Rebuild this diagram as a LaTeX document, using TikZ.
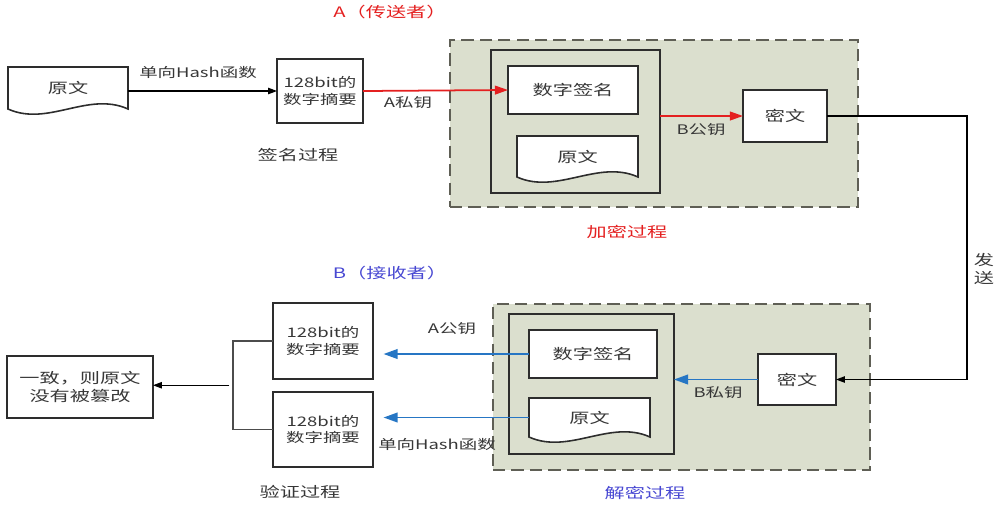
\documentclass[tikz,border=0pt]{standalone}
\usepackage{fontspec}
\setmainfont[FakeStretch=1.4]{Noto Sans CJK SC}
\usepackage{xcolor}
\usepackage{tikz}
\usetikzlibrary{arrows.meta,positioning,calc,backgrounds}
\definecolor{zonefill}{RGB}{219,223,206}
\definecolor{zoneline}{RGB}{95,95,85}
\definecolor{boxline}{RGB}{45,45,45}
\definecolor{signred}{RGB}{228,32,32}
\definecolor{keyblue}{RGB}{38,118,196}
\definecolor{titleblue}{RGB}{72,72,210}
\definecolor{textgray}{RGB}{55,55,55}
\newcommand{\bigtxt}{\fontsize{8.2}{10}\selectfont}
\newcommand{\smalltxt}{\fontsize{7.5}{9.2}\selectfont}

\begin{document}
\begin{tikzpicture}[
    x=0.02cm, y=-0.02cm,
    box/.style={rectangle, draw=boxline, line width=0.9pt, fill=white, align=center, inner sep=0pt, outer sep=0pt, font=\bigtxt, text=textgray},
    digest/.style={box, minimum width=2cm, font=\smalltxt},
    doc/.style={rectangle, align=center, inner sep=0pt, outer sep=0pt, font=\bigtxt, text=textgray},
    docline/.style={draw=boxline, line width=0.9pt, fill=white},
    zone/.style={rectangle, draw=zoneline, line width=1.5pt, dash pattern=on 7pt off 3.5pt, fill=zonefill, inner sep=0pt, outer sep=0pt},
    inner/.style={rectangle, draw=boxline, line width=1.1pt, inner sep=0pt, outer sep=0pt},
    lbl/.style={font=\smalltxt, inner sep=1pt, text=textgray},
    stagetxt/.style={font=\bigtxt, inner sep=1pt, text=textgray},
    arrow/.style={-{Triangle[length=5pt,width=3.6pt]}, line width=0.6pt, black},
    redarrow/.style={-{Triangle[length=7.5pt,width=5pt]}, line width=1pt, signred},
    bluearrow/.style={-{Triangle[length=8pt,width=5.5pt]}, line width=1pt, keyblue}
  ]
    \useasboundingbox (0,0) rectangle (997,515);

    \node[stagetxt, text=signred] (sender) at (390,12) {A（传送者）};
    \node[doc, minimum width=2.4cm, minimum height=0.84cm] (src) at (68,88) {原文};
    \node[digest, minimum height=1.28cm, minimum width=1.72cm] (hash1) at (320,91) {128bit的\\数字摘要};
    \node[stagetxt] (signstep) at (298,155) {签名过程};
    \node[box, minimum width=2.6cm, minimum height=0.96cm] (sig1) at (573,90) {数字签名};
    \node[doc, minimum width=2.42cm, minimum height=0.82cm] (plain1) at (577.5,156.5) {原文};
    \node[box, minimum width=1.68cm, minimum height=1.04cm] (cipher1) at (785,116) {密文};
    \node[stagetxt, text=signred] (encstep) at (627,232) {加密过程};

    \node[stagetxt, text=titleblue] (receiver) at (390,273) {B（接收者）};
    \node[box, minimum width=2.56cm, minimum height=0.96cm] (sig2) at (593,354) {数字签名};
    \node[doc, minimum width=2.42cm, minimum height=0.78cm] (plain2) at (589.5,417.5) {原文};
    \node[box, minimum width=1.56cm, minimum height=1.02cm] (cipher2) at (797,379.5) {密文};
    \node[stagetxt, text=titleblue] (decstep) at (645,493) {解密过程};
    \node[digest, minimum height=1.52cm] (dig1) at (323,341) {128bit的\\数字摘要};
    \node[digest, minimum height=1.5cm] (dig2) at (323,429.5) {128bit的\\数字摘要};
    \node[box, minimum width=2.92cm, minimum height=1.24cm] (result) at (80,387) {一致，则原文\\没有被篡改};
    \node[stagetxt] (checkstep) at (300,492) {验证过程};

    \begin{scope}[on background layer]
      \node[zone, minimum width=8.16cm, minimum height=3.34cm] (enczone) at (654,123.5) {};
      \node[inner, minimum width=3.38cm, minimum height=2.86cm] (encinner) at (575.5,121.5) {};
      \node[zone, minimum width=7.54cm, minimum height=3.32cm] (deczone) at (681.5,387) {};
      \node[inner, minimum width=3.3cm, minimum height=2.8cm] (decinner) at (591.5,384) {};
      \foreach \n in {src,plain1,plain2}
        \draw[docline] (\n.south west) -- (\n.north west) -- (\n.north east) -- (\n.south east)
          .. controls +(-40,-18) and +(40,18) .. (\n.south west) -- cycle;
    \end{scope}

    \draw[arrow] (src.east |- hash1.west) -- (hash1.west);
    \node[lbl] (hashlbl) at (198,72) {单向Hash函数};
    \draw[redarrow] (hash1.east) -- (sig1.west);
    \node[lbl] (privA) at (408,103) {A私钥};
    \draw[redarrow] (encinner.east |- cipher1.west) -- (cipher1.west);
    \node[lbl] (pubB) at (701,130) {B公钥};

    \draw[arrow] (cipher1.east) -- ++(140,0) |- (cipher2.east);
    \node[stagetxt, align=center, font=\fontsize{8.2}{9.7}\selectfont] (sendlbl) at (984,269) {发\\送};

    \draw[bluearrow] (cipher2.west) -- (cipher2.west -| decinner.east);
    \node[lbl] (privB) at (718,393) {B私钥};
    \draw[bluearrow, shorten >=6\pgflinewidth] (sig2.west) -- (sig2.west -| dig1.east);
    \node[lbl] (pubA) at (452,329) {A公钥};
    \draw[bluearrow, shorten >=6\pgflinewidth] (plain2.west) -- (plain2.west -| dig2.east);
    \node[lbl] (hashlbl2) at (437,444) {单向Hash函数};

    \coordinate (join) at ($(dig1.west)!0.5!(dig2.west)+(-40,0)$);
    \draw[line width=0.8pt, black!70] (dig1.west) -| (join) |- (dig2.west);
    \draw[arrow] ([xshift=-2pt]join) -- (join -| result.east);
  \end{tikzpicture}
\end{document}
